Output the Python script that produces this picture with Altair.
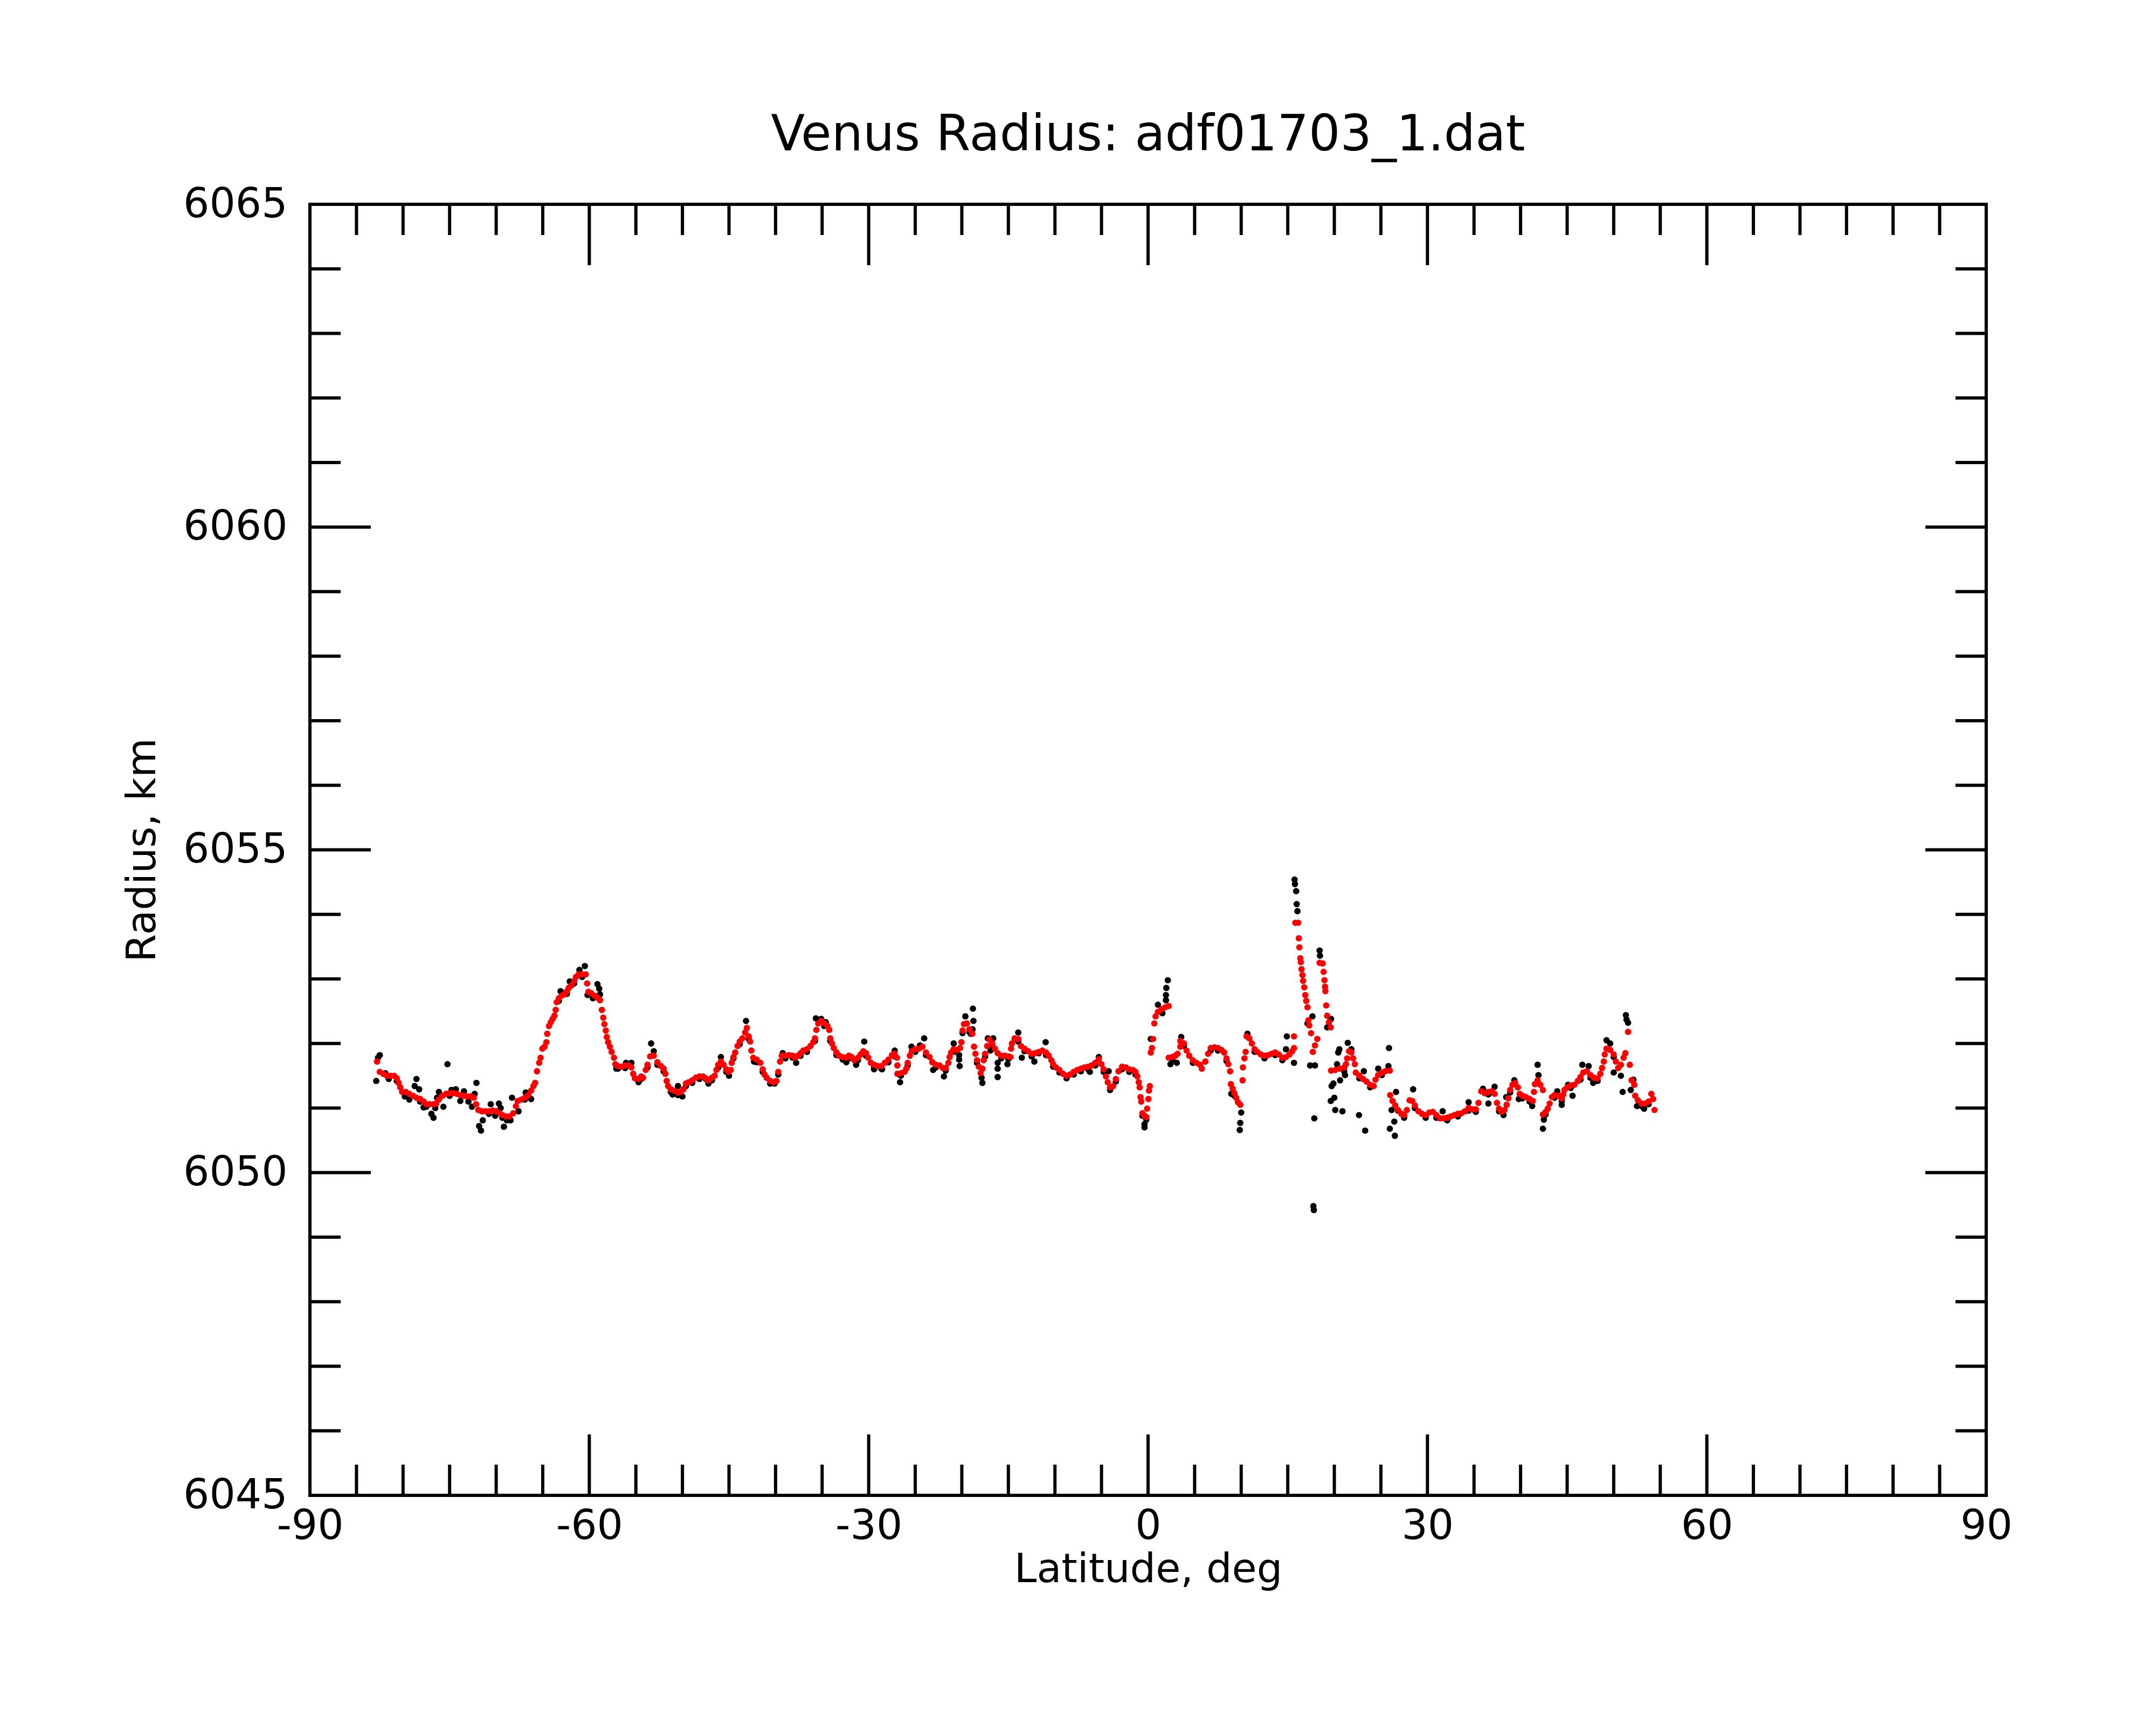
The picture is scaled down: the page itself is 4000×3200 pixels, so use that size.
import altair as alt
import pandas as pd

TITLE = "Venus Radius: adf01703_1.dat"
X_TITLE = "Latitude, deg"
Y_TITLE = "Radius, km"

# axis ticks
x_major = [-90, -60, -30, 0, 30, 60, 90]
x_minor = [v for v in range(-85, 90, 5) if v % 30 != 0]
y_major = [6045, 6050, 6055, 6060, 6065]
y_minor = [v for v in range(6046, 6065) if v % 5 != 0]
x_edges = [-90, 90]
y_edges = [6045, 6065]

# smoothed series (red): (latitude, radius)
red_a = [(-82.79,6051.72),(-82.50,6051.56),(-82.12,6051.53),(-81.73,6051.50),(-81.35,6051.50),(-80.96,6051.50),
 (-80.67,6051.46),(-80.48,6051.39),(-80.29,6051.32),(-80.10,6051.25),(-79.71,6051.25),(-79.33,6051.22),(-78.94,6051.19),
 (-78.56,6051.16),(-78.17,6051.14),(-77.79,6051.10),(-77.50,6051.06),(-77.12,6051.06),(-76.73,6051.06),(-76.44,6051.07),
 (-76.15,6051.13),(-75.77,6051.19),(-75.38,6051.22),(-75.00,6051.23),(-74.62,6051.23),(-74.23,6051.22),(-73.85,6051.20),
 (-73.46,6051.19),(-73.08,6051.18),(-72.69,6051.18),(-72.40,6051.16),(-72.15,6051.06),(-71.92,6050.97),(-71.54,6050.95),
 (-71.15,6050.95),(-70.77,6050.95),(-70.38,6050.96),(-70.00,6050.95),(-69.62,6050.92),(-69.33,6050.89),(-68.94,6050.87),
 (-68.56,6050.87),(-68.17,6050.92),(-67.88,6051.03),(-67.69,6051.11),(-67.31,6051.13),(-66.92,6051.16),(-66.54,6051.20),
 (-66.25,6051.27),(-66.00,6051.34),(-65.81,6051.39),(-65.62,6051.57),(-65.38,6051.70),(-65.23,6051.78),(-65.04,6051.92),
 (-64.81,6051.95),(-64.61,6052.02),(-64.52,6052.15),(-64.33,6052.27),(-64.13,6052.33),(-63.94,6052.38),(-63.75,6052.43),
 (-63.61,6052.52),(-63.50,6052.64),(-63.27,6052.70),(-62.98,6052.74),(-62.69,6052.76),(-62.40,6052.81),(-62.21,6052.86),
 (-61.92,6052.90),(-61.63,6052.97),(-61.44,6053.03),(-61.15,6053.07),(-60.77,6053.07),(-60.38,6053.07),(-60.23,6052.93),
 (-60.10,6052.80),(-59.81,6052.78),(-59.42,6052.74),(-59.13,6052.71),(-58.85,6052.67),(-58.65,6052.52),(-58.50,6052.40),
 (-58.38,6052.30),(-58.23,6052.20),(-58.12,6052.10),(-57.98,6052.02),(-57.79,6051.95),(-57.60,6051.87),(-57.35,6051.78),
 (-57.21,6051.68),(-56.92,6051.65),(-56.54,6051.64),(-56.15,6051.66),(-55.77,6051.66),(-55.48,6051.63),(-55.29,6051.53),
 (-55.10,6051.46),(-54.71,6051.45),(-54.42,6051.49)]

red_b = [(-54.23,6051.47),(-53.94,6051.59),(-53.75,6051.67),(-53.46,6051.80),(-53.08,6051.81),(-52.69,6051.71),
 (-52.31,6051.65),(-52.02,6051.61),(-51.83,6051.53),(-51.69,6051.42),(-51.54,6051.34),(-51.25,6051.29),(-50.87,6051.27),
 (-50.48,6051.24),(-50.19,6051.25),(-49.90,6051.29),(-49.62,6051.38),(-49.33,6051.40),(-48.94,6051.43),(-48.56,6051.47),
 (-48.17,6051.49),(-47.79,6051.49),(-47.50,6051.46),(-47.21,6051.43),(-46.83,6051.47),(-46.54,6051.50),(-46.35,6051.59),
 (-46.15,6051.67),(-45.87,6051.72),(-45.58,6051.67),(-45.29,6051.60),(-45.04,6051.56),(-44.81,6051.59),(-44.71,6051.70),
 (-44.52,6051.79),(-44.33,6051.86),(-44.08,6051.96),(-43.85,6052.03),(-43.56,6052.08),(-43.27,6052.17),(-43.08,6052.24),
 (-42.88,6052.11),(-42.73,6052.03),(-42.60,6051.89),(-42.40,6051.78),(-42.02,6051.75),(-41.63,6051.70),(-41.38,6051.60),
 (-41.19,6051.52),(-40.96,6051.47),(-40.58,6051.42),(-40.19,6051.40),(-39.90,6051.42),(-39.71,6051.56),(-39.52,6051.72),
 (-39.33,6051.81),(-38.94,6051.81),(-38.56,6051.82),(-38.17,6051.81),(-37.88,6051.78),(-37.60,6051.81),(-37.31,6051.85),
 (-37.02,6051.89),(-36.63,6051.91),(-36.25,6051.96),(-35.96,6052.02),(-35.77,6052.08),(-35.62,6052.21),(-35.42,6052.31),
 (-35.10,6052.35),(-34.77,6052.31),(-34.42,6052.27),(-34.23,6052.21),(-34.13,6052.08),(-33.94,6052.00),(-33.75,6051.93),
 (-33.46,6051.86),(-33.17,6051.81),(-32.79,6051.79),(-32.40,6051.78),(-32.12,6051.81),(-31.83,6051.79),(-31.54,6051.74),
 (-31.15,6051.78),(-30.87,6051.83),(-30.58,6051.88),(-30.29,6051.85),(-30.04,6051.78),(-29.77,6051.70),(-29.42,6051.67),
 (-29.04,6051.65),(-28.65,6051.65),(-28.27,6051.70),(-27.88,6051.75),(-27.50,6051.82),(-27.21,6051.84),(-26.96,6051.78),
 (-26.92,6051.66),(-26.92,6051.53),(-26.54,6051.54),(-26.15,6051.56),(-25.96,6051.61),(-25.81,6051.70),(-25.58,6051.81),
 (-25.38,6051.88),(-25.00,6051.91),(-24.62,6051.92),(-24.23,6051.95)]

red_c = [(-23.85,6051.86),(-23.46,6051.79),(-23.17,6051.71),(-22.79,6051.67),(-22.40,6051.66),(-22.02,6051.62),
 (-21.73,6051.62),(-21.44,6051.70),(-21.31,6051.79),(-21.15,6051.86),(-20.88,6051.91),(-20.48,6051.90),(-20.19,6051.93),
 (-20.04,6052.02),(-19.92,6052.20),(-19.77,6052.30),(-19.46,6052.31),(-19.19,6052.22),(-18.88,6052.15),(-18.69,6051.95),
 (-18.54,6051.84),(-18.37,6051.74),(-18.17,6051.64),(-17.98,6051.54),(-17.79,6051.61),(-17.65,6051.74),(-17.50,6051.84),
 (-17.27,6051.96),(-17.02,6052.06),(-16.73,6052.00),(-16.44,6051.92),(-16.15,6051.85),(-15.77,6051.81),(-15.38,6051.81),
 (-15.00,6051.80),(-14.77,6051.79),(-14.71,6051.92),(-14.62,6052.00),(-14.33,6052.08),(-13.94,6052.07),(-13.65,6051.96),
 (-13.27,6051.92),(-12.88,6051.88),(-12.50,6051.84),(-12.12,6051.85),(-11.73,6051.87),(-11.35,6051.89),(-10.96,6051.86),
 (-10.67,6051.81),(-10.38,6051.74),(-10.19,6051.68),(-9.90,6051.63),(-9.52,6051.59),(-9.13,6051.53),(-8.75,6051.50),
 (-8.36,6051.52),(-7.98,6051.56),(-7.60,6051.59),(-7.21,6051.61),(-6.83,6051.63),(-6.44,6051.64),(-6.06,6051.66),
 (-5.67,6051.70),(-5.29,6051.76),(-5.00,6051.68),(-4.77,6051.60),(-4.52,6051.49),(-4.33,6051.40),(-4.08,6051.32),
 (-3.75,6051.34),(-3.46,6051.45),(-3.17,6051.57),(-2.79,6051.64),(-2.40,6051.63),(-2.02,6051.60),(-1.63,6051.59),
 (-1.35,6051.56),(-1.15,6051.49),(-1.00,6051.40),(-0.90,6051.32),(-0.81,6051.17),(-0.73,6051.10),(-0.61,6050.92),
 (-0.38,6050.88),(-0.19,6050.86),(-0.10,6050.99),(0.04,6051.14),(0.10,6051.27),(0.19,6051.34),(0.29,6051.86),
 (0.42,6051.93),(0.54,6052.07),(0.67,6052.31),(0.81,6052.42),(1.06,6052.49),(1.44,6052.53),(1.83,6052.56),
 (2.21,6052.58),(2.21,6051.78),(2.60,6051.79),(2.92,6051.81),(3.17,6051.84),(3.46,6051.95),(3.46,6052.04),
 (3.85,6052.00),(4.13,6051.89),(4.42,6051.81),(4.81,6051.74),(5.19,6051.70),(5.58,6051.67)]

red_d = [(5.77,6051.61),(6.15,6051.72),(6.44,6051.84),(6.73,6051.93),(7.12,6051.94),(7.50,6051.93),(7.88,6051.90),
 (8.17,6051.86),(8.42,6051.77),(8.62,6051.68),(8.81,6051.57),(8.89,6051.37),(9.08,6051.30),(9.27,6051.23),(9.46,6051.16),
 (9.65,6051.09),(9.90,6051.05),(10.15,6051.43),(10.19,6051.63),(10.35,6051.77),(10.48,6051.87),(10.58,6052.11),
 (10.87,6052.08),(11.15,6052.00),(11.44,6051.91),(11.73,6051.87),(12.12,6051.83),(12.50,6051.81),(12.88,6051.82),
 (13.27,6051.84),(13.65,6051.86),(14.04,6051.83),(14.42,6051.78),(14.81,6051.79),(15.19,6051.83),(15.48,6051.88),
 (15.67,6051.93),(15.67,6052.11),(15.81,6053.87),(16.12,6053.87),(16.19,6053.63),(16.25,6053.49),(16.35,6053.32),
 (16.40,6053.26),(16.48,6053.15),(16.58,6053.06),(16.65,6052.97),(16.77,6052.87),(16.88,6052.75),(16.98,6052.66),
 (17.12,6052.56),(17.21,6052.36),(17.31,6052.28),(17.50,6052.16),(17.69,6051.87),(17.92,6051.97),(18.17,6052.07),
 (18.42,6053.25),(18.75,6053.24),(18.85,6053.11),(18.94,6052.98),(19.00,6052.88),(19.04,6052.81),(19.13,6052.59),
 (19.23,6052.43),(19.42,6052.33),(19.62,6052.25),(19.65,6051.58),(20.10,6051.59),(20.58,6051.61),(21.06,6051.63),
 (21.25,6051.68),(21.38,6051.77),(21.58,6051.88),(21.83,6051.86),(22.02,6051.77),(22.21,6051.68),(22.31,6051.55),
 (22.69,6051.50),(23.08,6051.45),(23.46,6051.41),(23.85,6051.36),(24.23,6051.34),(24.42,6051.44),(24.71,6051.51),
 (25.10,6051.55),(25.48,6051.57),(25.96,6051.58),(26.00,6051.20),(26.25,6051.11),(26.54,6051.04),(26.83,6050.97),
 (27.21,6050.91),(27.50,6050.89),(27.79,6050.97),(28.08,6051.12),(28.37,6051.11),(28.65,6051.04),(29.04,6050.95),
 (29.42,6050.91),(29.81,6050.89),(30.19,6050.93),(30.58,6050.94),(30.96,6050.89),(31.35,6050.84),(31.73,6050.84),
 (32.12,6050.85),(32.50,6050.87),(32.88,6050.89),(33.27,6050.91),(33.65,6050.92),(34.04,6050.95),(34.42,6051.00),
 (34.81,6050.98),(35.19,6050.98),(35.48,6051.08),(35.77,6051.26)]

red_e = [(36.15,6051.23),(36.54,6051.25),(36.92,6051.26),(37.21,6051.22),(37.46,6051.08),(37.69,6050.99),(37.98,6050.94),
 (38.27,6050.97),(38.50,6051.05),(38.69,6051.15),(38.88,6051.28),(39.13,6051.36),(39.42,6051.39),(39.71,6051.32),
 (39.90,6051.22),(40.19,6051.19),(40.58,6051.17),(40.96,6051.14),(41.31,6051.11),(41.44,6051.25),(41.54,6051.37),
 (41.83,6051.43),(42.12,6051.36),(42.40,6051.28),(42.40,6050.90),(42.69,6050.94),(42.92,6050.99),(43.12,6051.07),
 (43.37,6051.17),(43.65,6051.20),(44.04,6051.19),(44.42,6051.15),(44.58,6051.21),(44.71,6051.28),(45.00,6051.32),
 (45.38,6051.35),(45.77,6051.36),(46.15,6051.42),(46.44,6051.48),(46.73,6051.55),(47.12,6051.57),(47.50,6051.51),
 (47.88,6051.47),(48.27,6051.46),(48.56,6051.53),(48.75,6051.62),(48.94,6051.72),(49.04,6051.83),(49.23,6051.92),
 (49.62,6051.90),(50.00,6051.83),(50.23,6051.72),(50.48,6051.62),(50.77,6051.67),(51.06,6051.78),(51.25,6051.85),
 (51.54,6052.18),(51.73,6051.67),(51.92,6051.43),(52.21,6051.36),(52.31,6051.19),(52.60,6051.12),(52.98,6051.07),
 (53.37,6051.07),(53.75,6051.10),(54.04,6051.22),(54.23,6051.14),(54.38,6050.97)]

# raw series (black): scattered points
raw_south = [(-82.69,6051.78),(-82.50,6051.82),(-82.88,6051.42),(-81.90,6051.54),(-81.54,6051.45),(-80.67,6051.42),
 (-79.81,6051.18),(-79.33,6051.13),(-78.56,6051.45),(-78.75,6051.34),(-78.27,6051.29),(-78.17,6051.10),(-77.79,6051.01),
 (-77.50,6051.02),(-76.96,6050.91),(-76.73,6050.85),(-76.54,6051.00),(-76.35,6051.16),(-76.15,6051.25),(-75.67,6051.02),
 (-75.23,6051.68),(-75.00,6051.19),(-74.80,6051.28),(-74.33,6051.29),(-73.85,6051.11),(-73.46,6051.26),(-72.98,6051.10),
 (-72.60,6051.02),(-72.31,6051.22),(-72.12,6051.39),(-71.83,6050.72),(-71.63,6050.65),(-71.44,6050.81),(-70.77,6050.91),
 (-70.58,6051.06),(-70.10,6050.88),(-69.71,6051.07),(-69.52,6051.00),(-69.33,6050.85),(-69.17,6050.71),(-68.85,6050.81),
 (-68.46,6050.81),(-68.30,6051.16),(-67.60,6050.95),(-66.92,6051.13),(-66.83,6051.24),(-66.25,6051.14),(-63.27,6052.66),
 (-63.08,6052.81),(-62.40,6052.77),(-62.10,6052.96),(-61.63,6052.93),(-61.06,6053.14),(-60.77,6053.03),(-60.48,6053.20),
 (-60.19,6052.75),(-59.62,6052.70),(-59.13,6052.92),(-58.94,6052.85),(-58.85,6052.76),(-57.10,6051.61),(-56.92,6051.61),
 (-56.15,6051.62),(-56.06,6051.70),(-55.48,6051.70),(-54.71,6051.40),(-54.42,6051.45)]

raw_mid = [(-53.75,6051.63),(-53.36,6052.00),(-53.08,6051.88),(-52.69,6051.67),(-52.02,6051.57),(-51.25,6051.25),
 (-51.06,6051.21),(-50.48,6051.34),(-50.48,6051.20),(-50.00,6051.18),(-49.62,6051.34),(-48.94,6051.39),(-48.17,6051.45),
 (-47.50,6051.45),(-47.21,6051.38),(-46.83,6051.43),(-46.15,6051.63),(-45.87,6051.79),(-45.29,6051.56),(-45.00,6051.50),
 (-44.52,6051.77),(-43.85,6051.99),(-43.17,6052.35),(-42.88,6052.07),(-42.31,6051.72),(-42.02,6051.71),(-41.38,6051.56),
 (-40.58,6051.38),(-40.10,6051.38),(-39.71,6051.52),(-39.23,6051.85),(-38.94,6051.77),(-38.17,6051.78),(-37.79,6051.70),
 (-37.31,6051.81),(-36.63,6051.87),(-35.77,6052.04),(-35.67,6052.39),(-35.10,6052.38),(-34.77,6052.27),(-34.61,6052.33),
 (-34.13,6052.04),(-33.46,6051.82),(-32.79,6051.75),(-32.40,6051.71),(-32.12,6051.77),(-31.35,6051.67),(-31.15,6051.74),
 (-30.48,6052.03),(-30.29,6051.81),(-29.42,6051.60),(-29.42,6051.63),(-28.65,6051.61),(-28.56,6051.60),(-27.88,6051.71),
 (-27.21,6051.89),(-27.21,6051.80),(-26.63,6051.40),(-26.54,6051.50),(-25.81,6051.66),(-25.40,6051.95),(-25.00,6051.87),
 (-24.50,6051.97),(-24.04,6052.08),(-23.85,6051.82),(-23.08,6051.59),(-22.79,6051.63),(-21.92,6051.49),(-21.73,6051.58),
 (-20.87,6052.00),(-20.88,6051.87),(-20.29,6051.82),(-20.29,6051.75),(-20.23,6051.65),(-19.92,6052.16),(-19.62,6052.42),
 (-19.19,6052.18),(-19.04,6052.15),(-18.85,6052.22),(-18.81,6052.54),(-18.75,6052.35),(-18.37,6051.70),(-17.88,6051.47),
 (-17.79,6051.39),(-17.50,6051.80),(-17.21,6052.08),(-16.92,6051.89),(-16.73,6051.96),(-16.63,6052.08),(-16.15,6051.70),
 (-16.15,6051.61),(-16.15,6051.48),(-15.77,6051.77),(-15.10,6051.68),(-15.00,6051.76),(-13.94,6052.17),(-13.94,6052.03),
 (-13.56,6051.78),(-13.27,6051.88),(-12.50,6051.80),(-12.21,6051.72),(-11.73,6051.85),(-11.00,6052.02),(-10.96,6051.82),
 (-10.19,6051.64),(-9.52,6051.55),(-8.75,6051.46),(-7.98,6051.52),(-7.21,6051.57),(-6.44,6051.60),(-6.25,6051.56),
 (-5.67,6051.66),(-5.29,6051.79),(-4.77,6051.56),(-4.23,6051.57),(-4.08,6051.28),(-3.46,6051.41),(-2.79,6051.60),
 (-2.02,6051.56),(-1.35,6051.52),(-0.61,6050.88),(-0.38,6050.70),(-0.38,6050.75),(-0.19,6050.82),(0.29,6052.07),
 (1.06,6052.60),(1.44,6052.49),(1.54,6052.47),(1.92,6052.67),(1.92,6052.75),(1.96,6052.86),(2.12,6052.98),(2.40,6051.68),
 (2.60,6051.75),(3.08,6051.70),(3.56,6052.10),(3.85,6051.96),(4.81,6051.70)]

raw_north = [(6.73,6051.89),(7.50,6051.89),(8.42,6051.73),(8.94,6051.22),(9.27,6051.19),(9.85,6050.66),(9.90,6050.77),
 (10.00,6050.93),(10.67,6052.15),(11.44,6051.87),(12.50,6051.77),(13.65,6051.82),(14.42,6051.74),(14.81,6051.91),
 (14.90,6052.11),(15.67,6051.70),(15.73,6054.54),(15.77,6054.47),(15.90,6054.36),(15.96,6054.16),(16.04,6054.05),
 (17.12,6052.31),(17.40,6051.66),(17.65,6052.42),(17.75,6049.48),(17.80,6049.42),(17.85,6050.84),(17.92,6051.66),
 (18.42,6053.44),(18.46,6053.36),(19.23,6052.25),(19.62,6051.11),(19.65,6052.38),(19.71,6051.34),(19.90,6051.38),
 (20.00,6051.16),(20.10,6050.97),(20.29,6051.68),(20.42,6051.86),(20.54,6051.91),(20.62,6051.43),(20.87,6050.95),
 (21.06,6051.57),(21.15,6051.51),(21.44,6052.01),(21.83,6051.91),(22.65,6050.89),(22.69,6051.46),(23.17,6051.57),
 (23.31,6050.65),(23.85,6051.32),(24.71,6051.61),(25.10,6051.51),(25.81,6051.65),(25.87,6051.93),(25.96,6050.68),
 (26.15,6050.97),(26.44,6050.79),(26.50,6050.57),(26.63,6051.25),(26.83,6050.96),(27.50,6050.85),(28.46,6051.29),
 (28.65,6051.00),(29.81,6050.85),(30.96,6050.85),(31.63,6050.95),(32.12,6050.81),(33.27,6050.87),(34.42,6051.09),
 (34.42,6050.96),(35.19,6050.94),(35.96,6051.30),(36.54,6051.07),(36.54,6051.21),(37.21,6051.33),(37.69,6050.95),
 (38.17,6050.89),(38.46,6051.17),(38.88,6051.24),(39.33,6051.43),(39.81,6051.14),(40.19,6051.15),(40.96,6051.10),
 (41.25,6051.03),(41.83,6051.67),(41.92,6051.51),(42.40,6050.68),(42.50,6050.82),(42.69,6050.90),(43.65,6051.16),
 (43.94,6051.26),(44.42,6051.05),(44.42,6051.11),(45.10,6051.36),(45.38,6051.31),(45.58,6051.19),(46.44,6051.44),
 (46.63,6051.67),(47.31,6051.65),(47.50,6051.47),(47.79,6051.39),(48.27,6051.42),(49.23,6052.05),(49.62,6052.00),
 (50.00,6051.55),(50.00,6051.79),(50.77,6051.50),(50.96,6051.25),(51.31,6052.44),(51.38,6052.37),(51.54,6052.32),
 (51.83,6051.28),(52.12,6051.44),(52.50,6051.03),(52.98,6051.03),(53.27,6050.99),(53.75,6051.06)]

raw_pts = raw_south + raw_mid + raw_north
red_pts = red_a + red_b + red_c + red_d + red_e

pts = pd.DataFrame(
    [(la, r, "raw") for la, r in raw_pts] + [(la, r, "smooth") for la, r in red_pts],
    columns=["lat", "r", "series"],
)

FONT = "DejaVu Sans"
W, H = 3110, 2395
MAJOR, MINOR, TICKW = 113, 57, 6

xs = alt.Scale(domain=[-90, 90], nice=False, zero=False)
ys = alt.Scale(domain=[6045, 6065], nice=False, zero=False)

xaxis = alt.Axis(values=x_major, labelExpr="'' + datum.value", ticks=False, tickSize=0,
                 domain=False, grid=False, labelFont=FONT, labelFontSize=76, labelColor="black",
                 labelPadding=80, labelBaseline="alphabetic", labelFlush=False, labelOverlap=False,
                 labelLimit=1000,
                 title=X_TITLE, titleFont=FONT, titleFontSize=75, titleFontWeight="normal",
                 titleColor="black", titleY=160, titleBaseline="alphabetic")
yaxis = alt.Axis(values=y_major, labelExpr="'' + datum.value", ticks=False, tickSize=0,
                 domain=False, grid=False, labelFont=FONT, labelFontSize=76, labelColor="black",
                 labelPadding=42, labelFlush=False, labelOverlap=False, labelLimit=1000,
                 title=Y_TITLE, titleFont=FONT, titleFontSize=75, titleFontWeight="normal",
                 titleColor="black", titleX=-311, titleY=H / 2, titleAngle=270,
                 titleBaseline="middle", titleAlign="center")

X = alt.X("lat:Q", scale=xs, axis=xaxis)
Y = alt.Y("r:Q", scale=ys, axis=yaxis)

points = alt.Chart(pts).mark_circle(size=140, opacity=1).encode(
    x=X, y=Y,
    color=alt.Color("series:N", scale=alt.Scale(domain=["raw", "smooth"], range=["#000000", "#ff0000"]),
                    legend=None),
)

def xticks(vals, length):
    df = pd.DataFrame([(v, e) for v in vals for e in y_edges], columns=["lat", "r"])
    return alt.Chart(df).mark_tick(orient="vertical", size=2 * length, thickness=TICKW,
                                   color="black", opacity=1, clip=True).encode(x=X, y=Y)

def yticks(vals, length):
    df = pd.DataFrame([(e, v) for v in vals for e in x_edges], columns=["lat", "r"])
    return alt.Chart(df).mark_tick(orient="horizontal", size=2 * length, thickness=TICKW,
                                   color="black", opacity=1, clip=True).encode(x=X, y=Y)

chart = alt.layer(
    points,
    xticks(x_major, MAJOR), xticks(x_minor, MINOR),
    yticks(y_major, MAJOR), yticks(y_minor, MINOR),
).properties(
    width=W, height=H,
    title=alt.TitleParams(TITLE, font=FONT, fontSize=92, fontWeight="normal", color="black",
                          anchor="middle", frame="group", baseline="alphabetic", offset=-30),
    padding={"left": 567, "top": 371, "right": 280, "bottom": 380},
    autosize="none",
).configure(background="white").configure_view(stroke="black", strokeWidth=6)

chart.save("out.html", embed_options={"renderer": "svg", "actions": False})
